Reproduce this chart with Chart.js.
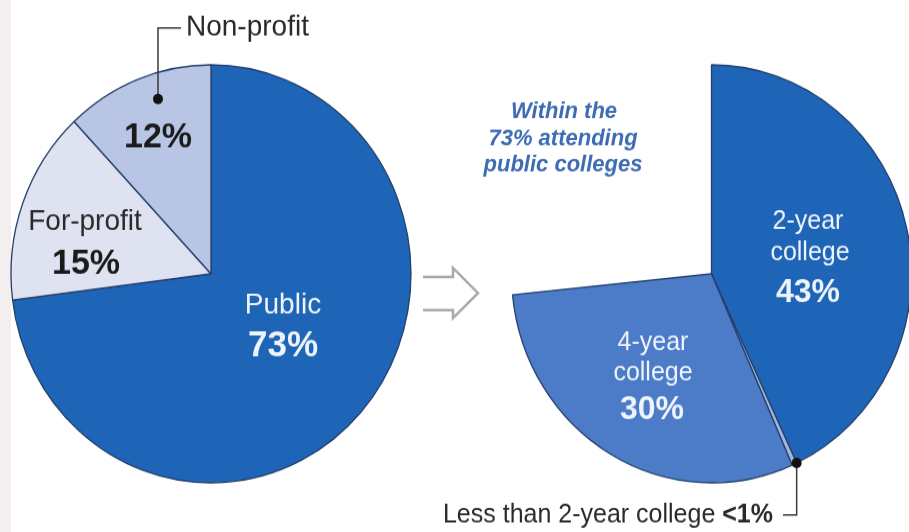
<!DOCTYPE html>
<html>
<head>
<meta charset="utf-8">
<title>College enrollment by sector</title>
<script src="https://cdn.jsdelivr.net/npm/chart.js@4.4.0/dist/chart.umd.min.js"></script>
<style>
    html, body { margin: 0; padding: 0; }
    body {
        width: 909px;
        height: 532px;
        overflow: hidden;
        position: relative;
        background: linear-gradient(to right, #f4efef 0, #f4efef 11px, #ffffff 11px);
    }
    /* the original graphic is a little taller than it is wide */
    canvas {
        position: absolute;
        left: 0;
        top: 0;
        transform: scaleY(1.045);
        transform-origin: 0 0;
    }
</style>
</head>
<body>
<canvas id="sectorChart" width="909" height="509"></canvas>
<canvas id="publicChart" width="909" height="509"></canvas>
<script>
// ================================
// Data
// ================================
const sectorLabels = ["Public", "For-profit", "Non-profit"];
const sectorShares = [73, 15, 12];

const publicLabels = ["2-year college", "Less than 2-year college", "4-year college"];
const publicShares = [43, 0.4, 30];   // share of all students, the middle one is "<1%"

const sectorColors = ["#1f65b7", "#dee2f1", "#b8c5e5"];
const publicColors = ["#1f65b7", "#a3b5dc", "#4c7cc7"];

const FONT = '"Liberation Sans", Arial, Helvetica, sans-serif';
const STRETCH = 1.045;

// page y -> canvas y (canvas is stretched by CSS)
function fy(y) {
    return y / STRETCH;
}

function pct(v) {
    return v < 1 ? "<1%" : v + "%";
}

function label(ctx, str, x, y, size, color, weight, align) {
    ctx.font = (weight || "normal") + " " + size + "px " + FONT;
    ctx.fillStyle = color;
    ctx.textAlign = align || "center";
    ctx.textBaseline = "alphabetic";
    ctx.fillText(str, x, fy(y));
}

function dot(ctx, x, y) {
    ctx.beginPath();
    ctx.arc(x, y, 5, 0, Math.PI * 2);
    ctx.fillStyle = "#111";
    ctx.fill();
}

// ================================
// Left pie labels
// ================================
const sectorLabelPlugin = {
    id: "sectorLabels",
    afterDraw(chart) {
        const ctx = chart.ctx;
        ctx.save();

        // Non-profit leader line
        ctx.strokeStyle = "#3a3a3a";
        ctx.lineWidth = 1.5;
        ctx.beginPath();
        ctx.moveTo(158, fy(99));
        ctx.lineTo(158, fy(28));
        ctx.lineTo(181, fy(28));
        ctx.stroke();
        dot(ctx, 158, fy(99));

        label(ctx, sectorLabels[2], 186, 36, 28, "#2a2a2a", "normal", "left");
        label(ctx, pct(sectorShares[2]), 158, 147, 34, "#1b1b1b", "bold");

        label(ctx, sectorLabels[1], 85, 230, 28, "#2a2a2a");
        label(ctx, pct(sectorShares[1]), 86, 274, 34, "#1b1b1b", "bold");

        label(ctx, sectorLabels[0], 283, 314, 28, "#eef4fb");
        label(ctx, pct(sectorShares[0]), 283, 356, 35, "#eef4fb", "bold");

        ctx.restore();
    }
};

// ================================
// Right pie labels + arrow
// ================================
const publicLabelPlugin = {
    id: "publicLabels",
    afterDraw(chart) {
        const ctx = chart.ctx;
        ctx.save();

        // hollow arrow between the pies
        ctx.strokeStyle = "#a9a9a9";
        ctx.lineWidth = 2.5;
        ctx.beginPath();
        ctx.moveTo(423, fy(277));
        ctx.lineTo(453, fy(277));
        ctx.lineTo(453, fy(268));
        ctx.lineTo(478, fy(293));
        ctx.lineTo(453, fy(318));
        ctx.lineTo(453, fy(310));
        ctx.lineTo(423, fy(310));
        ctx.stroke();

        // note
        const note = ["Within the", sectorShares[0] + "% attending", "public colleges"];
        label(ctx, note[0], 564, 118, 22, "#3d6cb4", "italic bold");
        label(ctx, note[1], 563, 145, 22, "#3d6cb4", "italic bold");
        label(ctx, note[2], 563, 171, 22, "#3d6cb4", "italic bold");

        // slice labels
        const white = "#eef4fb";
        label(ctx, "2-year", 808, 229, 25, white);
        label(ctx, "college", 810, 260, 25, white);
        label(ctx, pct(publicShares[0]), 808, 302, 32, white, "bold");

        label(ctx, "4-year", 653, 350, 25, white);
        label(ctx, "college", 653, 380, 25, white);
        label(ctx, pct(publicShares[2]), 652, 419, 32, white, "bold");

        // "<1%" callout at the edge of the sliver
        const arc = chart.getDatasetMeta(0).data[0];
        const px = arc.x + Math.cos(arc.endAngle) * arc.outerRadius;
        const py = arc.y + Math.sin(arc.endAngle) * arc.outerRadius;
        ctx.strokeStyle = "#3a3a3a";
        ctx.lineWidth = 1.5;
        ctx.beginPath();
        ctx.moveTo(px, py);
        ctx.lineTo(px, fy(515));
        ctx.lineTo(783, fy(515));
        ctx.stroke();
        dot(ctx, px, py);

        const boldPart = pct(publicShares[1]);
        ctx.font = "bold 25px " + FONT;
        const bw = ctx.measureText(boldPart).width;
        label(ctx, boldPart, 773, 523, 25, "#2a2a2a", "bold", "right");
        label(ctx, "Less than 2-year college ", 773 - bw, 523, 25, "#2a2a2a", "normal", "right");

        ctx.restore();
    }
};

const baseOptions = {
    responsive: false,
    animation: false,
    events: [],
    plugins: {
        legend: { display: false },
        tooltip: { enabled: false }
    }
};

// ================================
// Charts
// ================================
new Chart(document.getElementById("sectorChart"), {
    type: "pie",
    data: {
        labels: sectorLabels,
        datasets: [{
            data: sectorShares,
            backgroundColor: sectorColors,
            borderColor: "#24406c",
            borderWidth: 1.3
        }]
    },
    options: Object.assign({}, baseOptions, {
        radius: 200,
        layout: { padding: { left: 11, top: 62, right: 498, bottom: 47 } }
    }),
    plugins: [sectorLabelPlugin]
});

const publicTotal = publicShares.reduce((a, b) => a + b, 0);

new Chart(document.getElementById("publicChart"), {
    type: "pie",
    data: {
        labels: publicLabels,
        datasets: [{
            data: publicShares,
            backgroundColor: publicColors,
            borderColor: "#24406c",
            borderWidth: 1.3
        }]
    },
    options: Object.assign({}, baseOptions, {
        radius: 200,
        circumference: publicTotal / 100 * 360,
        layout: { padding: { left: 515, top: 65, right: 0, bottom: 50 } }
    }),
    plugins: [publicLabelPlugin]
});
</script>
</body>
</html>
